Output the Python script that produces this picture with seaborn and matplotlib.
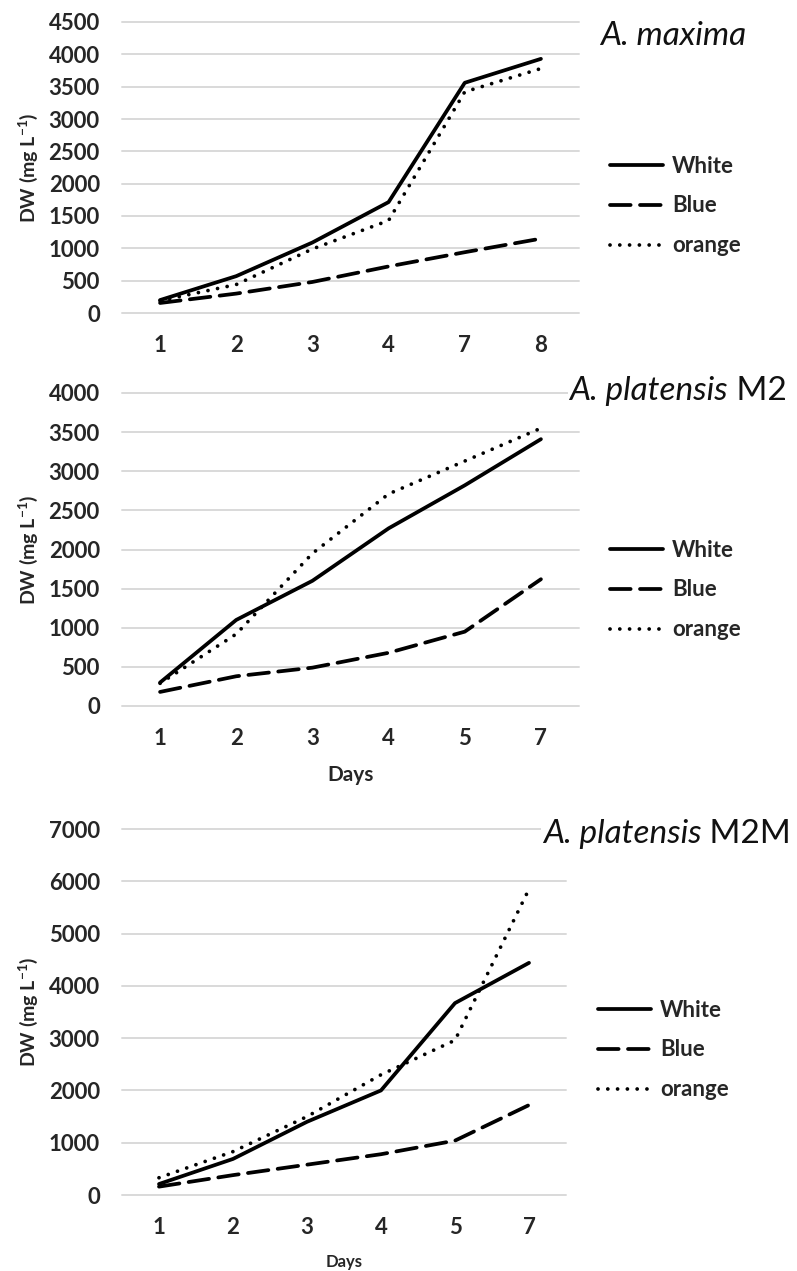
import pandas as pd
import matplotlib.pyplot as plt
import seaborn as sns

# dry weight (mg L-1) per day
series_names = ['White', 'Blue', 'orange']

days_maxima = ['1', '2', '3', '4', '7', '8']
white_maxima = [200, 570, 1090, 1715, 3560, 3930]
blue_maxima = [155, 300, 480, 720, 940, 1150]
orange_maxima = [190, 440, 990, 1430, 3420, 3780]

days_m2 = ['1', '2', '3', '4', '5', '7']
white_m2 = [300, 1100, 1600, 2270, 2820, 3410]
blue_m2 = [180, 380, 490, 680, 950, 1620]
orange_m2 = [290, 920, 1950, 2710, 3130, 3550]

days_m2m = ['1', '2', '3', '4', '5', '7']
white_m2m = [210, 690, 1400, 2000, 3670, 4440]
blue_m2m = [160, 380, 580, 780, 1040, 1720]
orange_m2m = [330, 830, 1500, 2300, 2960, 5850]


def make_frame(days, white, blue, orange):
    rows = []
    for name, vals in zip(series_names, [white, blue, orange]):
        for d, v in zip(days, vals):
            rows.append({'day': d, 'dw': v, 'light': name})
    return pd.DataFrame(rows)


sns.set_style('white')
plt.rcParams['font.family'] = ['Lato', 'DejaVu Sans']
plt.rcParams['mathtext.fontset'] = 'custom'
plt.rcParams['mathtext.rm'] = 'Lato'
plt.rcParams['mathtext.it'] = 'Lato:italic'
plt.rcParams['mathtext.bf'] = 'Lato:bold'

W, H = 797, 1271
fig = plt.figure(figsize=(W / 100, H / 100), dpi=100)
renderer = fig.canvas.get_renderer()

dash_map = {'White': '', 'Blue': (5.5, 2.5), 'orange': (0.01, 2.6)}
title_kw = dict(va='baseline', fontsize=24, color='#111111',
                bbox=dict(facecolor='white', edgecolor='none', pad=1))

panels = [
    # df, px left/right/top/bottom of plot area, y max, y step,
    # italic title, upright suffix, title right x, title baseline, legend x, legend y, "Days" y
    (make_frame(days_maxima, white_maxima, blue_maxima, orange_maxima),
     122, 579, 22, 313, 4500, 500, 'A. maxima', '', 746, 45, 610, 206, None),
    (make_frame(days_m2, white_m2, blue_m2, orange_m2),
     122, 579, 393, 706, 4000, 500, 'A. platensis', ' M2', 787, 400, 610, 590, 775),
    (make_frame(days_m2m, white_m2m, blue_m2m, orange_m2m),
     122, 566, 829, 1195, 7000, 1000, 'A. platensis', ' M2M', 791, 843, 598, 1050, 1262),
]

for (df, x0, x1, y0, y1, ymax, step, t_it, t_up, tx, ty, lx, ly, dy) in panels:
    ax = fig.add_axes([x0 / W, 1 - y1 / H, (x1 - x0) / W, (y1 - y0) / H])
    sns.lineplot(data=df, x='day', y='dw', style='light', style_order=series_names,
                 dashes=dash_map, color='black', lw=2.7, sort=False, legend=False, ax=ax)
    for line in ax.lines:
        line.set_dash_capstyle('round')
        line.set_solid_capstyle('round')

    ax.set_xlim(-0.5, len(df['day'].unique()) - 0.5)
    ax.set_ylim(0, ymax)
    ax.set_yticks(range(0, ymax + 1, step))
    ax.grid(axis='y', color='#d9d9d9', lw=1.4)
    ax.grid(axis='x', visible=False)
    for gl in ax.get_ygridlines():
        gl.set_clip_on(False)
    ax.set_axisbelow(True)
    sns.despine(ax=ax, left=True, bottom=True)
    ax.tick_params(length=0, pad=16, labelsize=16)
    for lbl in ax.get_xticklabels() + ax.get_yticklabels():
        lbl.set_fontweight('bold')
    ax.set_xlabel('')
    ax.set_ylabel('')

    fig.text(28 / W, 1 - (y0 + y1) / 2 / H, r'DW (mg L$^{\mathbf{-1}}$)', rotation=90,
             ha='center', va='center', fontsize=14, fontweight='bold')

    # title: italic species name followed by upright strain code
    right = tx / W
    if t_up:
        up = fig.text(right, 1 - ty / H, t_up, ha='right', **title_kw)
        right = up.get_window_extent(renderer).x0 / W * 100 / fig.dpi
    fig.text(right, 1 - ty / H, t_it, ha='right', style='italic', **title_kw)

    if dy is not None:
        fig.text((x0 + x1) / 2 / W, 1 - dy / H, 'Days', ha='center', va='center',
                 fontsize=15 if dy < 1000 else 12, fontweight='bold')

    ax.legend(ax.lines, series_names, loc='center left', bbox_to_anchor=(lx / W, 1 - ly / H),
              bbox_transform=fig.transFigure, frameon=False, borderpad=0, borderaxespad=0,
              handlelength=2.4, handletextpad=0.4, labelspacing=0.85,
              prop={'weight': 'bold', 'size': 16})

fig.savefig('out.png', dpi=100)
